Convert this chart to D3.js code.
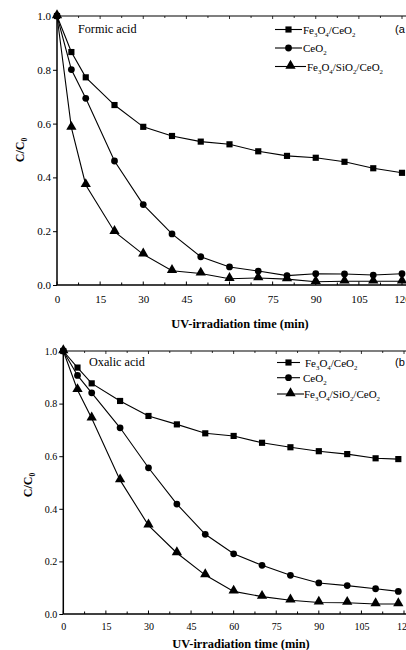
<!DOCTYPE html>
<html>
<head>
<meta charset="utf-8">
<script src="https://cdn.jsdelivr.net/npm/d3@7"></script>
<style>
  html, body { margin: 0; padding: 0; background: #fff; }
  svg { display: block; }
</style>
</head>
<body>
<svg id="chart" width="406" height="650"></svg>
<script>
// ---------- Data ----------
const seriesNames = ["Fe3O4/CeO2", "CeO2", "Fe3O4/SiO2/CeO2"];

// Panel (a): Formic acid
const timesA = [0, 5, 10, 20, 30, 40, 50, 60, 70, 80, 90, 100, 110, 120];
const formicFe3O4CeO2 = [1.0, 0.866, 0.772, 0.669, 0.588, 0.554, 0.533, 0.523, 0.497, 0.480, 0.473, 0.458, 0.434, 0.417];
const formicCeO2 = [1.0, 0.801, 0.694, 0.461, 0.299, 0.190, 0.105, 0.067, 0.052, 0.035, 0.042, 0.041, 0.037, 0.042];
const formicFe3O4SiO2CeO2 = [1.0, 0.585, 0.372, 0.198, 0.114, 0.053, 0.043, 0.023, 0.026, 0.022, 0.012, 0.014, 0.014, 0.014];

// Panel (b): Oxalic acid
const timesB = [0, 5, 10, 20, 30, 40, 50, 60, 70, 80, 90, 100, 110, 118];
const oxalicFe3O4CeO2 = [1.0, 0.937, 0.877, 0.810, 0.753, 0.721, 0.687, 0.677, 0.651, 0.634, 0.619, 0.608, 0.592, 0.589];
const oxalicCeO2 = [1.0, 0.907, 0.841, 0.708, 0.556, 0.418, 0.303, 0.229, 0.185, 0.147, 0.118, 0.108, 0.096, 0.086];
const oxalicFe3O4SiO2CeO2 = [1.0, 0.852, 0.744, 0.509, 0.337, 0.232, 0.148, 0.086, 0.066, 0.052, 0.044, 0.043, 0.038, 0.038];

const xTicks = [0, 15, 30, 45, 60, 75, 90, 105, 120];
const yTicks = [0.0, 0.2, 0.4, 0.6, 0.8, 1.0];

// ---------- Drawing ----------
const SERIF = "'Liberation Serif', 'Times New Roman', Times, serif";
const SANS = "'Liberation Sans', Arial, sans-serif";
const svg = d3.select("#chart");
const markerShapes = [d3.symbolSquare, d3.symbolCircle, d3.symbolTriangle];
const markerSizes = [38, 36, 46];

const legendParts = [
  [["Fe", 0], ["3", 1], ["O", 0], ["4", 1], ["/CeO", 0], ["2", 1]],
  [["CeO", 0], ["2", 1]],
  [["Fe", 0], ["3", 1], ["O", 0], ["4", 1], ["/SiO", 0], ["2", 1], ["/CeO", 0], ["2", 1]]
];

function subLabel(sel, parts, fs) {
  let prevSub = false;
  parts.forEach(([t, sub]) => {
    let dy = 0;
    if (sub && !prevSub) dy = fs * 0.3;
    if (!sub && prevSub) dy = -fs * 0.3;
    sel.append("tspan")
      .attr("font-size", sub ? fs * 0.62 : fs)
      .attr("dy", dy)
      .text(t);
    prevSub = sub;
  });
}

function drawPanel(cfg) {
  const g = svg.append("g");
  const x = d3.scaleLinear().domain([0, 120]).range([cfg.x0, cfg.x1]);
  const y = d3.scaleLinear().domain([0, 1]).range([cfg.y0, cfg.y1]);

  // top frame line with downward ticks
  g.append("line").attr("x1", x(0)).attr("x2", 406).attr("y1", y(1)).attr("y2", y(1))
    .attr("stroke", "#000").attr("stroke-width", 1.2);
  const minor = d3.range(0, 121, 7.5);
  g.selectAll(".tt").data(minor).enter().append("line")
    .attr("x1", d => x(d)).attr("x2", d => x(d))
    .attr("y1", y(1)).attr("y2", d => y(1) + (d % 15 === 0 ? 3 : 2))
    .attr("stroke", "#000").attr("stroke-width", 0.8);

  // x axis
  const xAxis = d3.axisBottom(x).tickValues(xTicks).tickSize(0).tickPadding(cfg.xPad).tickFormat(d3.format("d"));
  const xa = g.append("g").attr("transform", `translate(0,${y(0)})`).call(xAxis);
  xa.attr("font-family", null).attr("font-size", null);
  xa.select(".domain").remove();
  xa.selectAll("text").style("font-family", SERIF).style("font-size", cfg.tickFs + "px");
  g.append("line").attr("x1", x(0)).attr("x2", 406).attr("y1", y(0)).attr("y2", y(0))
    .attr("stroke", "#000").attr("stroke-width", 1.5);
  g.selectAll(".xt").data(minor).enter().append("line")
    .attr("x1", d => x(d)).attr("x2", d => x(d))
    .attr("y1", y(0)).attr("y2", d => y(0) - (d % 15 === 0 ? 3.5 : 2.5))
    .attr("stroke", "#000").attr("stroke-width", 1);

  // y axis
  const yAxis = d3.axisLeft(y).tickValues(yTicks).tickSize(4).tickPadding(2).tickFormat(d3.format(".1f"));
  const ya = g.append("g").attr("transform", `translate(${x(0)},0)`).call(yAxis);
  ya.attr("font-family", null).attr("font-size", null);
  ya.select(".domain").attr("stroke-width", 1.5).attr("d", `M0,${y(0)}V${y(1)}`);
  ya.selectAll(".tick line").attr("stroke-width", 1);
  ya.selectAll("text").style("font-family", SERIF).style("font-size", cfg.tickFs + "px");

  // axis titles
  g.append("text").attr("x", cfg.xTitleX).attr("y", cfg.xTitleY)
    .attr("text-anchor", "middle").style("font-family", SERIF).style("font-weight", "bold").style("font-size", "12.4px")
    .text("UV-irradiation time (min)");
  const yt = g.append("text")
    .attr("transform", `translate(${cfg.yTitleX},${cfg.yTitleY}) rotate(-90)`)
    .attr("text-anchor", "middle").style("font-family", SERIF).style("font-weight", "bold").style("font-size", "12px");
  yt.append("tspan").text("C/C");
  yt.append("tspan").attr("font-size", 7.5).attr("dy", 3).text("0");

  // annotation
  g.append("text").attr("x", cfg.annX).attr("y", cfg.annY)
    .style("font-family", SERIF).style("font-size", "12.2px").text(cfg.label);
  g.append("text").attr("x", 395).attr("y", cfg.annY)
    .style("font-family", SANS).style("font-size", "11px").text(cfg.tag);

  // series
  const line = d3.line().x(d => x(d[0])).y(d => y(d[1]));
  cfg.series.forEach((vals, i) => {
    const pts = cfg.times.map((t, k) => [t, vals[k]]);
    g.append("path").datum(pts).attr("d", line)
      .attr("fill", "none").attr("stroke", "#000").attr("stroke-width", 1.1);
    const sym = d3.symbol().type(markerShapes[i]).size(markerSizes[i]);
    g.selectAll(null).data(pts).enter().append("path")
      .attr("d", sym)
      .attr("transform", d => `translate(${x(d[0])},${y(d[1]) + (i === 2 ? -0.8 : 0)})`)
      .attr("fill", "#000");
  });

  // legend
  cfg.legendY.forEach((ly, i) => {
    const lx0 = cfg.legX[0], lx1 = cfg.legX[1] + (i === 2 ? 4 : 0);
    g.append("line").attr("x1", lx0).attr("x2", lx1).attr("y1", ly).attr("y2", ly)
      .attr("stroke", "#000").attr("stroke-width", 1.1);
    g.append("path").attr("d", d3.symbol().type(markerShapes[i]).size(markerSizes[i])())
      .attr("transform", `translate(${(lx0 + lx1) / 2},${ly + (i === 2 ? -0.8 : 0)})`).attr("fill", "#000");
    const t = g.append("text").attr("x", cfg.legTextX[i]).attr("y", ly + 4)
      .style("font-family", SERIF).style("font-size", "11px");
    subLabel(t, legendParts[i], 11);
  });
}

drawPanel({
  x0: 57, x1: 402, y0: 285, y1: 16,
  times: timesA,
  series: [formicFe3O4CeO2, formicCeO2, formicFe3O4SiO2CeO2],
  tickFs: 11, xPad: 10,
  xTitleX: 240, xTitleY: 328, yTitleX: 24, yTitleY: 150,
  label: "Formic acid", annX: 78, annY: 33, tag: "(a",
  legendY: [29.5, 48, 66.5], legX: [275, 302], legTextX: [303, 303, 307]
});

drawPanel({
  x0: 63.3, x1: 404, y0: 614, y1: 351,
  times: timesB,
  series: [oxalicFe3O4CeO2, oxalicCeO2, oxalicFe3O4SiO2CeO2],
  tickFs: 10, xPad: 9,
  xTitleX: 241, xTitleY: 648, yTitleX: 32, yTitleY: 485,
  label: "Oxalic acid", annX: 89, annY: 366, tag: "(b",
  legendY: [362.5, 377.7, 394], legX: [277, 300], legTextX: [305, 303, 304]
});
</script>
</body>
</html>
